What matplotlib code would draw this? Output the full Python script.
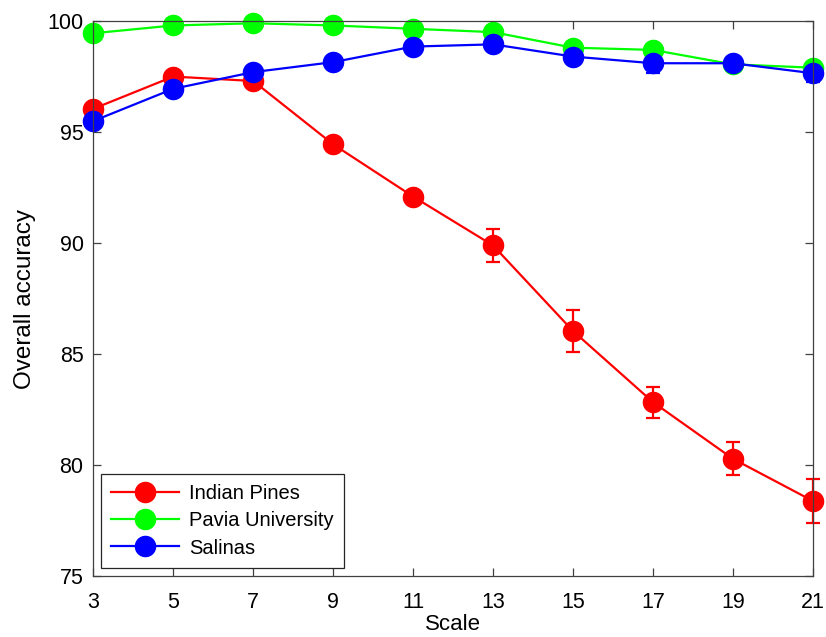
import matplotlib
matplotlib.use('Agg')
from matplotlib import pyplot as plt

plt.rcParams['font.family'] = ['Liberation Sans', 'DejaVu Sans']

scale = [3, 5, 7, 9, 11, 13, 15, 17, 19, 21]

indian = [96.05, 97.5, 97.3, 94.45, 92.1, 89.9, 86.05, 82.85, 80.3, 78.4]
indian_err = [0.15, 0.1, 0.15, 0.3, 0.15, 0.75, 0.95, 0.7, 0.75, 1.0]

pavia = [99.45, 99.8, 99.9, 99.8, 99.65, 99.5, 98.8, 98.7, 98.05, 97.9]
pavia_err = [0.05, 0.05, 0.05, 0.05, 0.05, 0.05, 0.1, 0.1, 0.1, 0.1]

salinas = [95.5, 96.95, 97.7, 98.15, 98.85, 98.95, 98.4, 98.1, 98.1, 97.65]
salinas_err = [0.2, 0.1, 0.1, 0.1, 0.1, 0.1, 0.15, 0.45, 0.1, 0.4]

fontsize = 15.5

fig = plt.figure(figsize=(8.26, 6.37), dpi=100)
ax = fig.add_axes([0.113, 0.095, 0.871, 0.872])

series = [
    (indian, indian_err, '#ff0000', 'Indian Pines'),
    (pavia, pavia_err, '#00ff00', 'Pavia University'),
    (salinas, salinas_err, '#0000ff', 'Salinas'),
]
for vals, err, color, name in series:
    ax.errorbar(scale, vals, yerr=err, color=color, marker='o', markersize=14.5,
                linewidth=1.6, elinewidth=1.6, capsize=5, capthick=1.6,
                label=name, clip_on=False)

ax.set_xlim(3, 21)
ax.set_ylim(75, 100)
ax.set_xticks(scale)
ax.set_yticks([75, 80, 85, 90, 95, 100])
ax.set_xlabel('Scale', fontsize=16, labelpad=1)
ax.set_ylabel('Overall accuracy', fontsize=17.5, labelpad=8)
ax.tick_params(direction='in', top=True, right=True, labelsize=fontsize,
               length=6, color='#404040', width=0.9)
ax.tick_params(axis='x', pad=11)
ax.tick_params(axis='y', pad=7)
for s in ax.spines.values():
    s.set_color('#404040')
    s.set_linewidth(0.9)

# legend shows only line + marker, no error bar
handles, labels = ax.get_legend_handles_labels()
handles = [h[0] for h in handles]
leg = ax.legend(handles, labels, loc='lower left', fontsize=14.5,
                fancybox=False, edgecolor='#262626', framealpha=1,
                borderpad=0.5, handlelength=3.4, handletextpad=0.5,
                labelspacing=0.4, borderaxespad=0,
                bbox_to_anchor=(0.01, 0.016))
leg.get_frame().set_linewidth(0.9)

plt.savefig('out.png', dpi=100)
